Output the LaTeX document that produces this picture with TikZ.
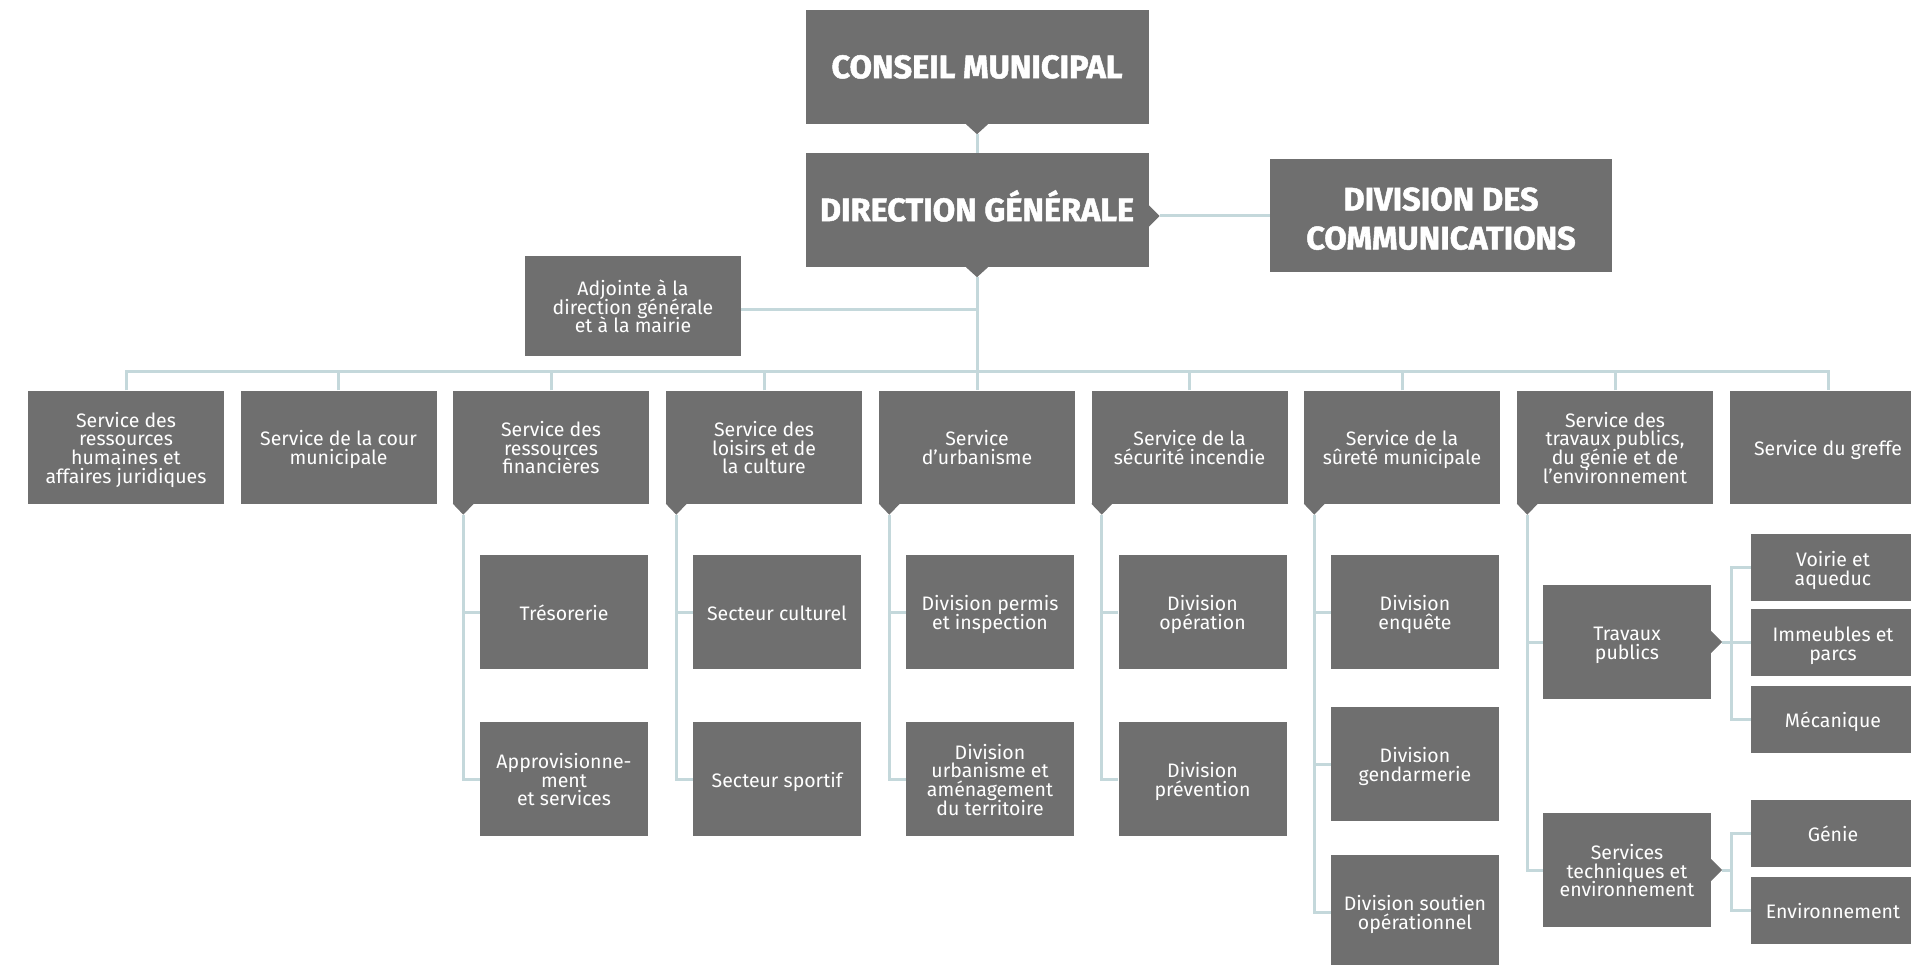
\documentclass[tikz,border=0pt]{standalone}
\usepackage{fontspec}
\setmainfont{Fira Sans}
\newfontfamily\headfont{Fira Sans}[UprightFeatures={FakeBold=1.5},BoldFeatures={FakeBold=1.5}]
\usetikzlibrary{calc}
\definecolor{boxgray}{HTML}{6F6F6F}
\definecolor{linec}{HTML}{C4D8DB}
\newcommand\tightlines{\lineskiplimit=-20pt\relax\lineskip=0pt\relax}
\newcommand\ts{\rule{0pt}{21pt}}
\newcommand\botstrut{\rule[-4.5pt]{0pt}{4.5pt}}
\begin{document}
\begin{tikzpicture}[x=1pt,y=-1pt,
  box/.style={fill=boxgray,text=white,inner sep=0pt,align=center},
  bodybox/.style={box,font=\fontsize{19.5}{18.7}\selectfont,
    execute at begin node={\tightlines},execute at end node={\botstrut}},
  topbox/.style={bodybox,minimum width=196pt,minimum height=113pt},
  subbox/.style={bodybox,minimum width=168pt,minimum height=114pt},
  leafbox/.style={bodybox,minimum width=164pt,minimum height=67pt},
  headbox/.style={box,font=\headfont\fontsize{32.5}{39}\selectfont\bfseries,execute at begin node=\tightlines},
  conn/.style={draw=linec,line width=3pt},
  ptr/.style={fill=boxgray}]
\useasboundingbox (0,0) rectangle (1911,965);

% --- top levels
\node[headbox,minimum width=343pt,minimum height=114pt,text height=22.4pt,text depth=0pt] (conseil) at (977,67) {CONSEIL MUNICIPAL};
\node[headbox,minimum width=343pt,minimum height=114pt,text height=22.4pt,text depth=0pt] (dg) at (977,210) {DIRECTION GÉNÉRALE};
\node[headbox,minimum width=342pt,minimum height=113pt] (comm) at (1441,216) {\rule{0pt}{28.4pt}DIVISION DES\\COMMUNICATIONS};
\node[bodybox,minimum width=216pt,minimum height=100pt] (adj) at (633,306) {\ts Adjointe à la\\direction générale\\et à la mairie};

% --- services
\node[topbox] (s1) at (126,447) {\ts Service des\\ressources\\humaines et\\affaires juridiques};
\node[topbox] (s2) at (338.5,447) {\ts Service de la cour\\municipale};
\node[topbox] (s3) at (551,447) {\ts Service des\\ressources\\financières};
\node[topbox] (s4) at (764,447) {\ts Service des\\loisirs et de\\la culture};
\node[topbox] (s5) at (977,447) {\ts Service\\d'urbanisme};
\node[topbox] (s6) at (1189.5,447) {\ts Service de la\\sécurité incendie};
\node[topbox] (s7) at (1402,447) {\ts Service de la\\sûreté municipale};
\node[topbox] (s8) at (1615,447) {\ts Service des\\travaux publics,\\du génie et de\\l'environnement};
\node[topbox] (s9) at (1828,447) {\ts Service du greffe};

% --- sub units
\node[subbox] (tres) at (564,612) {\ts Trésorerie};
\node[subbox] (appro) at (564,779) {\ts Approvisionne-\\ment\\et services};
\node[subbox] (cult) at (777,612) {\ts Secteur culturel};
\node[subbox] (sport) at (777,779) {\ts Secteur sportif};
\node[subbox] (permis) at (990,612) {\ts Division permis\\et inspection};
\node[subbox] (urb) at (990,779) {\ts Division\\urbanisme et\\aménagement\\du territoire};
\node[subbox] (oper) at (1202.5,612) {\ts Division\\opération};
\node[subbox] (prev) at (1202.5,779) {\ts Division\\prévention};
\node[subbox] (enq) at (1415,612) {\ts Division\\enquête};
\node[subbox] (gend) at (1415,764) {\ts Division\\gendarmerie};
\node[subbox] (sout) at (1415,912) {\ts Division soutien\\opérationnel};
\node[subbox] (trav) at (1627,642) {\ts Travaux\\publics};
\node[subbox] (stech) at (1627,870) {\ts Services\\techniques et\\environnement};

\node[leafbox] (voirie) at (1833,567.5) {\ts Voirie et\\aqueduc};
\node[leafbox] (imm) at (1833,642.5) {\ts Immeubles et\\parcs};
\node[leafbox] (meca) at (1833,719.5) {\ts Mécanique};
\node[leafbox] (genie) at (1833,833.5) {\ts Génie};
\node[leafbox] (envi) at (1833,910.5) {\ts Environnement};

% --- pointers
\fill[ptr] (conseil.south) ++(-11,0) -- ++(11,10) -- ++(11,-10) -- cycle;
\coordinate (ctip) at ([yshift=-10pt]conseil.south);
\fill[ptr] (dg.south) ++(-11,0) -- ++(11,10) -- ++(11,-10) -- cycle;
\coordinate (dtip) at ([yshift=-10pt]dg.south);
\fill[ptr] ([yshift=-6pt]dg.east) ++(0,-11) -- ++(11,11) -- ++(-11,11) -- cycle;
\coordinate (drtip) at ([xshift=11pt,yshift=-6pt]dg.east);
\foreach \s in {s3,s4,s5,s6,s7,s8}{
  \fill[ptr] (\s.south west) -- ++(10.5,11) -- ++(10.5,-11) -- cycle;
  \coordinate (\s tip) at ([xshift=10.5pt,yshift=-11pt]\s.south west);
}
\foreach \s in {trav,stech}{
  \fill[ptr] (\s.east) ++(0,-11) -- ++(11,11) -- ++(-11,11) -- cycle;
  \coordinate (\s tip) at ([xshift=11pt]\s.east);
  \coordinate (\s j) at ([xshift=20pt]\s.east);
}

% --- connectors
\draw[conn] (ctip) -- (dg.north);
\draw[conn] (dtip) -- (s5.north);
\draw[conn] ([yshift=-4pt]adj.east) -- ([yshift=-4pt]adj.east -| dtip);
\draw[conn] (drtip) -- (drtip -| comm.west);
\draw[conn] (s1.north) -- ++(0,-19) -| (s9.north);
\foreach \s in {s2,s3,s4,s6,s7,s8}{
  \draw[conn] (\s.north) -- ++(0,-19);
}
\draw[conn] (s3tip) |- (tres.west);
\draw[conn] (s3tip) |- (appro.west);
\draw[conn] (s4tip) |- (cult.west);
\draw[conn] (s4tip) |- (sport.west);
\draw[conn] (s5tip) |- (permis.west);
\draw[conn] (s5tip) |- (urb.west);
\draw[conn] (s6tip) |- (oper.west);
\draw[conn] (s6tip) |- (prev.west);
\draw[conn] (s7tip) |- (enq.west);
\draw[conn] (s7tip) |- (gend.west);
\draw[conn] (s7tip) |- (sout.west);
\draw[conn] (s8tip) |- (trav.west);
\draw[conn] (s8tip) |- (stech.west);
\draw[conn] (travtip) -- (travj);
\draw[conn] (travj) |- (voirie.west);
\draw[conn] (travj) |- (imm.west);
\draw[conn] (travj) |- (meca.west);
\draw[conn] (stechtip) -- (stechj);
\draw[conn] (stechj) |- (genie.west);
\draw[conn] (stechj) |- (envi.west);
\end{tikzpicture}
\end{document}
